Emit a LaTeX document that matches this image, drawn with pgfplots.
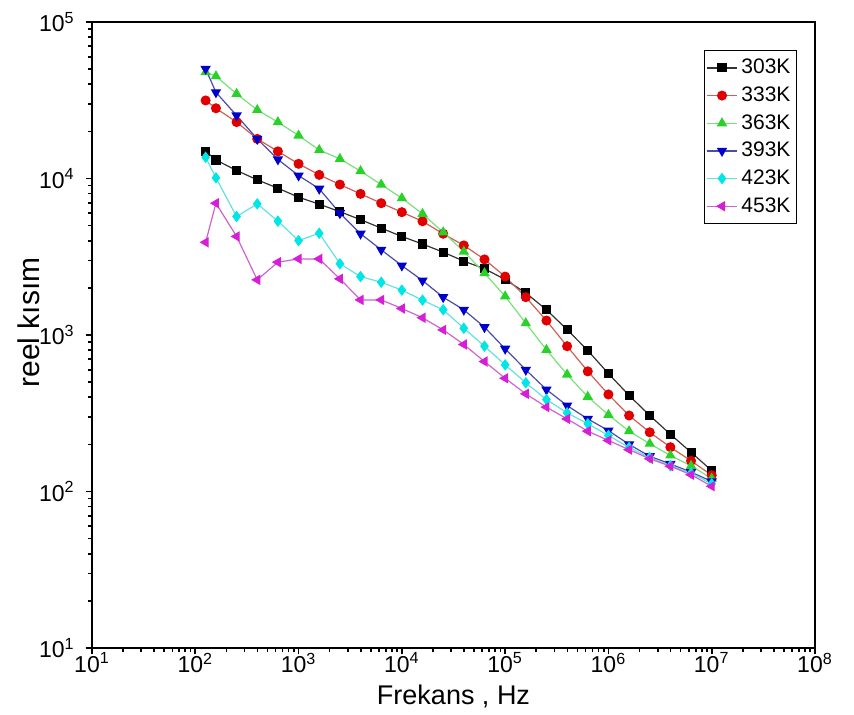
\documentclass[border=0pt]{standalone}
\usepackage{fontspec}
\setmainfont{Liberation Sans}
\usepackage{pgfplots}
\usepackage{pgfplotstable}
\pgfplotsset{compat=1.18}

\definecolor{mred}{RGB}{225,0,0}
\definecolor{lred}{RGB}{205,95,85}
\definecolor{mgreen}{RGB}{40,210,40}
\definecolor{lgreen}{RGB}{120,225,120}
\definecolor{mblue}{RGB}{0,0,205}
\definecolor{lblue}{RGB}{75,75,170}
\definecolor{mcyan}{RGB}{0,230,230}
\definecolor{lcyan}{RGB}{100,225,225}
\definecolor{mmag}{RGB}{215,30,215}
\definecolor{lmag}{RGB}{205,100,205}

% f, 303K, 333K, 363K, 393K, 423K, 453K
\pgfplotstableread{
f        a      b      c      d      e      g
125.9    14910  31540  47810  50190  13660  3912
158.5    13140  28110  45040  35560  10100  6955
251.2    11250  22940  34750  25270  5717   4262
398.1    9810   17910  27410  17910  6890   2252
631.0    8670   14910  22940  13240  5339   2920
1000     7595   12410  18830  10440  4011   3064
1585     6857   10550  15220  8600   4470   3064
2512     6138   9148   13350  5998   2853   2285
3981     5458   7978   11150  4437   2363   1676
6310     4818   6955   9148   3505   2173   1676
10000    4262   6095   7489   2776   1936   1477
15850    3814   5329   5945   2228   1671   1289
25120    3384   4437   4535   1745   1449   1078
39810    2964   3737   3417   1449   1105   870
63100    2653   3042   2486   1122   848    677
100000   2262   2363   1767   817    645    529
158500   1858   1745   1190   599    495    421
251200   1449   1237   804    448    387    346
398100   1083   848    559    354    318    291
631000   796    586    403    291    271    243
1000000  567    417    309    245    228    212
1585000  411    306    243    200    191    185
2512000  306    239    202    168    165    162
3981000  232    192    170    150    146    145
6310000  178    157    146    133    131    128
10000000 136    127    121    116    112    108
}\data

\begin{document}
\begin{tikzpicture}
\begin{axis}[
  scale only axis, width=361.5pt, height=313pt,
  xmode=log, ymode=log,
  xmin=10, xmax=1e8, ymin=10, ymax=1e5,
  xtick={10,100,1000,10000,100000,1000000,10000000,100000000},
  xticklabels={10\textsuperscript{1},10\textsuperscript{2},10\textsuperscript{3},10\textsuperscript{4},10\textsuperscript{5},10\textsuperscript{6},10\textsuperscript{7},10\textsuperscript{8}},
  ytick={10,100,1000,10000,100000},
  yticklabels={10\textsuperscript{1},10\textsuperscript{2},10\textsuperscript{3},10\textsuperscript{4},10\textsuperscript{5}},
  tick align=outside, xtick pos=bottom, ytick pos=left,
  major tick length=3.2pt, minor tick length=2pt,
  every tick/.style={black, line width=0.8pt},
  axis line style={line width=0.9pt},
  tick label style={font=\fontsize{11.5}{13}\selectfont},
  xticklabel style={inner ysep=0.5pt, yshift=1.5pt},
  yticklabel style={xshift=-2pt},
  xlabel={Frekans , Hz}, ylabel={reel kısım},
  xlabel style={font=\fontsize{13.5}{15}\selectfont, at={(axis description cs:0.5,-0.077)}, anchor=center},
  ylabel style={font=\fontsize{15}{17}\selectfont, at={(axis description cs:-0.088,0.52)}, anchor=center},
  legend cell align=left,
  legend style={at={(0.975,0.955)}, anchor=north east, draw=black, line width=0.5pt,
    font=\fontsize{10.5}{12}\selectfont, row sep=0.6pt, inner xsep=1pt, inner ysep=2pt,
    nodes={inner xsep=2pt, inner ysep=2.2pt}},
  legend image code/.code={\draw[mark repeat=2,mark phase=2,#1] plot coordinates {(0cm,0cm) (0.26cm,0cm) (0.52cm,0cm)};},
  every axis plot/.append style={line width=0.6pt, mark size=2.2pt},
]
\addplot[color=black!80, mark=square*, mark options={fill=black, draw=black, scale=0.9}] table[x=f,y=a] {\data};
\addlegendentry{303K}
\addplot[color=lred, mark=*, mark options={fill=mred, draw=mred}] table[x=f,y=b] {\data};
\addlegendentry{333K}
\addplot[color=lgreen, mark=triangle*, mark options={fill=mgreen, draw=mgreen, scale=1.1}] table[x=f,y=c] {\data};
\addlegendentry{363K}
\addplot[color=lblue, mark=triangle*, mark options={fill=mblue, draw=mblue, rotate=180, scale=1.1}] table[x=f,y=d] {\data};
\addlegendentry{393K}
\addplot[color=lcyan, mark=diamond*, mark options={fill=mcyan, draw=mcyan, scale=1.1}] table[x=f,y=e] {\data};
\addlegendentry{423K}
\addplot[color=lmag, mark=triangle*, mark options={fill=mmag, draw=mmag, rotate=90, scale=1.1}] table[x=f,y=g] {\data};
\addlegendentry{453K}
\end{axis}
\pgfresetboundingbox
\path[use as bounding box] (-46pt,-33pt) rectangle (381pt,324pt);
\end{tikzpicture}
\end{document}
